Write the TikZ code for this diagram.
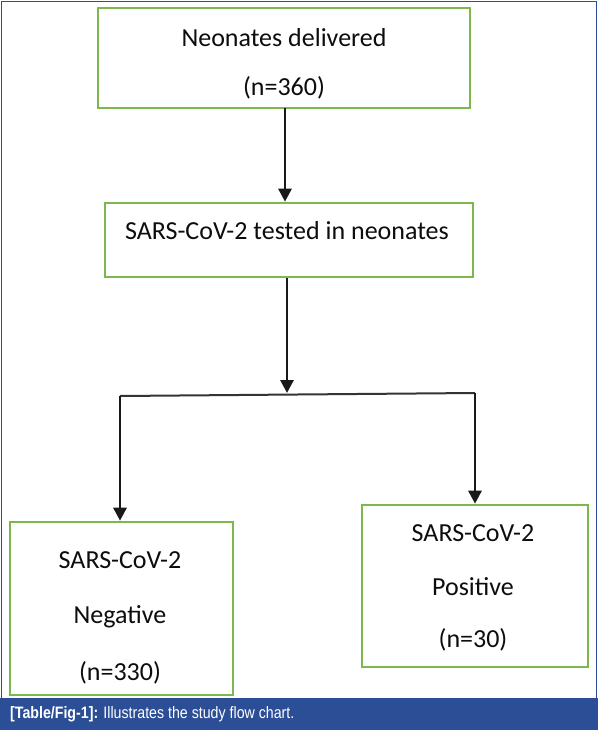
\documentclass[tikz,border=0pt]{standalone}
\usepackage{fontspec}
\setmainfont{Carlito}
\newfontfamily\capfont[FakeStretch=0.86]{Liberation Sans}
\usetikzlibrary{arrows.meta}
\definecolor{boxgreen}{HTML}{7DB74E}
\definecolor{capblue}{HTML}{2B4E97}
\tikzset{
  flowbox/.style={draw=boxgreen, line width=2.6pt, fill=white, inner sep=0pt},
  lbl/.style={font=\fontsize{26}{26}\selectfont, text=black!95, inner sep=0pt},
  arr/.style={line width=2.8pt, black!90, -{Triangle[length=13pt,width=13pt]}},
  plain/.style={line width=2pt, black!80}
}
\begin{document}
\begin{tikzpicture}[x=1pt,y=-1pt]
\useasboundingbox (0,0) rectangle (598,730);
% outer frame and caption bar
\draw[capblue, line width=1.2pt] (1.5,1.5) rectangle (596.5,728.5);
\fill[capblue] (0,698) rectangle (598,730);
\node[anchor=west, inner sep=0pt, text=white, font=\capfont\fontsize{16.5}{16.5}\selectfont] (cap) at (10,714)
  {\textbf{[Table/Fig-1]:} Illustrates the study flow chart.};
% boxes
\node[flowbox, minimum width=372pt, minimum height=100pt] (b1) at (284,58) {};
\node[flowbox, minimum width=368pt, minimum height=74pt] (b2) at (289,240) {};
\node[flowbox, minimum width=223pt, minimum height=173pt] (b3) at (121.5,608.5) {};
\node[flowbox, minimum width=226pt, minimum height=162pt] (b4) at (475,586) {};
% texts
\node[lbl] (t1a) at (284,38) {Neonates delivered};
\node[lbl] (t1b) at (284,88) {(n=360)};
\node[lbl] (t2) at (287,231) {SARS-CoV-2 tested in neonates};
\node[lbl] (t3a) at (120,560) {SARS-CoV-2};
\node[lbl] (t3b) at (120,617) {Negative};
\node[lbl] (t3c) at (120,673) {(n=330)};
\node[lbl] (t4a) at (473,533) {SARS-CoV-2};
\node[lbl] (t4b) at (473,587) {Positive};
\node[lbl] (t4c) at (473,640) {(n=30)};
% connectors
\coordinate (s1) at (285,108);
\coordinate (j) at (287,393);
\coordinate (jl) at (120,396);
\coordinate (jr) at (475,393);
\draw[arr] (s1) -- (s1 |- b2.north);
\draw[arr] (j |- b2.south) -- (j);
\draw[plain] (jl) -- (jr);
\draw[arr] (jl) -- (jl |- b3.north);
\draw[arr] (jr) -- (jr |- b4.north);
\end{tikzpicture}
\end{document}
